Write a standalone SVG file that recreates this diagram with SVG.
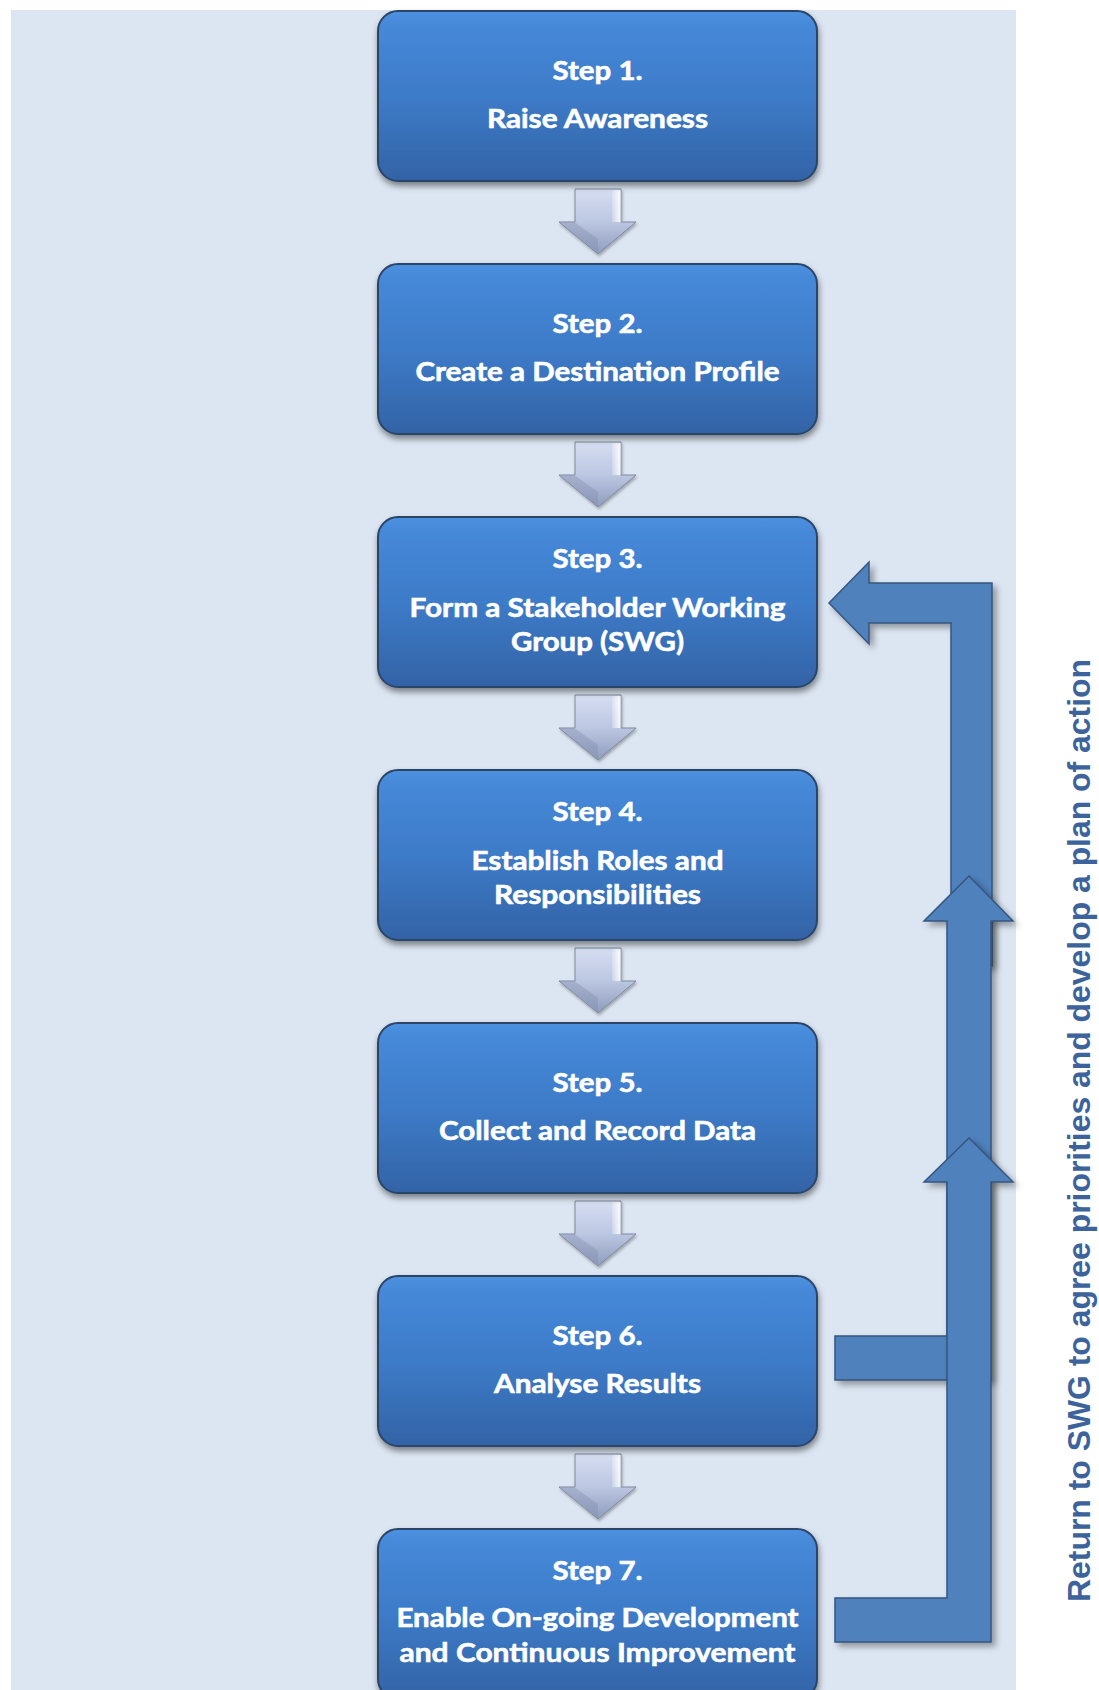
<svg xmlns="http://www.w3.org/2000/svg" width="1099" height="1690" viewBox="0 0 1099 1690">
<style>
.box{fill:url(#boxGrad);stroke:#2c4567;stroke-width:2;filter:url(#boxShadow)}
.t{font-family:Lato,"Open Sans","Liberation Sans",sans-serif;font-weight:700;font-size:27px;fill:#ffffff;stroke:#ffffff;stroke-width:0.6;text-anchor:middle}
.conn{fill:#4f81bd;stroke:#34557f;stroke-width:1.5;stroke-linejoin:miter;filter:url(#connShadow)}
.side{font-family:"Liberation Sans",Arial,sans-serif;font-weight:700;font-size:32px;fill:#3c639b}
</style>
<defs>
<linearGradient id="boxGrad" x1="0" y1="0" x2="0" y2="1">
<stop offset="0" stop-color="#4d91e0"/>
<stop offset="0.08" stop-color="#4689d9"/>
<stop offset="0.5" stop-color="#3d7bc8"/>
<stop offset="1" stop-color="#3363a6"/>
</linearGradient>
<linearGradient id="arrGrad" x1="0" y1="0" x2="0" y2="1">
<stop offset="0" stop-color="#d6def1"/>
<stop offset="0.5" stop-color="#bcc7e2"/>
<stop offset="1" stop-color="#8f9cbd"/>
</linearGradient>
<linearGradient id="hiGrad" x1="0" y1="0" x2="1" y2="0">
<stop offset="0" stop-color="#ffffff" stop-opacity="0.2"/>
<stop offset="1" stop-color="#ffffff" stop-opacity="0.9"/>
</linearGradient>
<filter id="boxShadow" x="-10%" y="-10%" width="120%" height="130%">
<feDropShadow dx="1" dy="4" stdDeviation="3" flood-color="#000" flood-opacity="0.45"/>
</filter>
<filter id="connShadow" x="-20%" y="-10%" width="140%" height="130%">
<feDropShadow dx="4" dy="4" stdDeviation="3" flood-color="#000" flood-opacity="0.35"/>
</filter>
<filter id="arrShadow" x="-20%" y="-20%" width="140%" height="140%">
<feDropShadow dx="1" dy="2" stdDeviation="1.5" flood-color="#000" flood-opacity="0.3"/>
</filter>
<g id="darrow">
<path d="M-23,0 H23 V33 H38 L0,65 L-39,33 H-23 Z" fill="url(#arrGrad)" stroke="#7f899f" stroke-width="1" filter="url(#arrShadow)"/>
<path d="M14,1 H22.5 V33 H14 Z" fill="url(#hiGrad)"/>
<path d="M0,64 L-38,33.5 H-23 L0,50 Z" fill="#7d8aa9" opacity="0.35"/>
</g>
</defs>

<rect x="0" y="0" width="1099" height="1690" fill="#ffffff"/>
<rect x="11" y="10" width="1005" height="1680" fill="#dce6f2"/>

<g id="connectors">
<use href="#darrow" x="598" y="189"/>
<use href="#darrow" x="598" y="442"/>
<use href="#darrow" x="598" y="695"/>
<use href="#darrow" x="598" y="948"/>
<use href="#darrow" x="598" y="1201"/>
<use href="#darrow" x="598" y="1454"/>
<path id="loop-to-step3" class="conn" d="M829,603 L869,562 V583 H992 V966 H951 V623 H869 V644 Z"/>
<path id="loop-from-step6" class="conn" d="M969,876 L1013,921 H991 V1380 H835 V1336 H947 V921 H924 Z"/>
<path id="loop-from-step7" class="conn" d="M969,1138 L1013,1182 H991 V1642 H835 V1598 H947 V1182 H924 Z"/>
</g>

<g id="step1">
<rect class="box" x="378" y="11" width="439" height="170" rx="20"/>
<text class="t" x="597.5" y="80" textLength="90" lengthAdjust="spacingAndGlyphs">Step 1.</text>
<text class="t" x="597.5" y="128" textLength="221" lengthAdjust="spacingAndGlyphs">Raise Awareness</text>
</g>
<g id="step2">
<rect class="box" x="378" y="264" width="439" height="170" rx="20"/>
<text class="t" x="597.5" y="333" textLength="90" lengthAdjust="spacingAndGlyphs">Step 2.</text>
<text class="t" x="597.5" y="381" textLength="364" lengthAdjust="spacingAndGlyphs">Create a Destination Profile</text>
</g>
<g id="step3">
<rect class="box" x="378" y="517" width="439" height="170" rx="20"/>
<text class="t" x="597.5" y="568" textLength="90" lengthAdjust="spacingAndGlyphs">Step 3.</text>
<text class="t" x="597.5" y="617" textLength="376" lengthAdjust="spacingAndGlyphs">Form a Stakeholder Working</text>
<text class="t" x="597.5" y="651" textLength="173" lengthAdjust="spacingAndGlyphs">Group (SWG)</text>
</g>
<g id="step4">
<rect class="box" x="378" y="770" width="439" height="170" rx="20"/>
<text class="t" x="597.5" y="821" textLength="90" lengthAdjust="spacingAndGlyphs">Step 4.</text>
<text class="t" x="597.5" y="870" textLength="252" lengthAdjust="spacingAndGlyphs">Establish Roles and</text>
<text class="t" x="597.5" y="904" textLength="207" lengthAdjust="spacingAndGlyphs">Responsibilities</text>
</g>
<g id="step5">
<rect class="box" x="378" y="1023" width="439" height="170" rx="20"/>
<text class="t" x="597.5" y="1092" textLength="90" lengthAdjust="spacingAndGlyphs">Step 5.</text>
<text class="t" x="597.5" y="1140" textLength="317" lengthAdjust="spacingAndGlyphs">Collect and Record Data</text>
</g>
<g id="step6">
<rect class="box" x="378" y="1276" width="439" height="170" rx="20"/>
<text class="t" x="597.5" y="1345" textLength="90" lengthAdjust="spacingAndGlyphs">Step 6.</text>
<text class="t" x="597.5" y="1393" textLength="207" lengthAdjust="spacingAndGlyphs">Analyse Results</text>
</g>
<g id="step7">
<rect class="box" x="378" y="1529" width="439" height="170" rx="20"/>
<text class="t" x="597.5" y="1580" textLength="90" lengthAdjust="spacingAndGlyphs">Step 7.</text>
<text class="t" x="597.5" y="1627" textLength="402" lengthAdjust="spacingAndGlyphs">Enable On-going Development</text>
<text class="t" x="597.5" y="1662" textLength="396" lengthAdjust="spacingAndGlyphs">and Continuous Improvement</text>
</g>

<g id="side-label">
<text class="side" transform="translate(1090,1602) rotate(-90)" x="0" y="0" textLength="943" lengthAdjust="spacingAndGlyphs">Return to SWG to agree priorities and develop a plan of action</text>
</g>
</svg>
